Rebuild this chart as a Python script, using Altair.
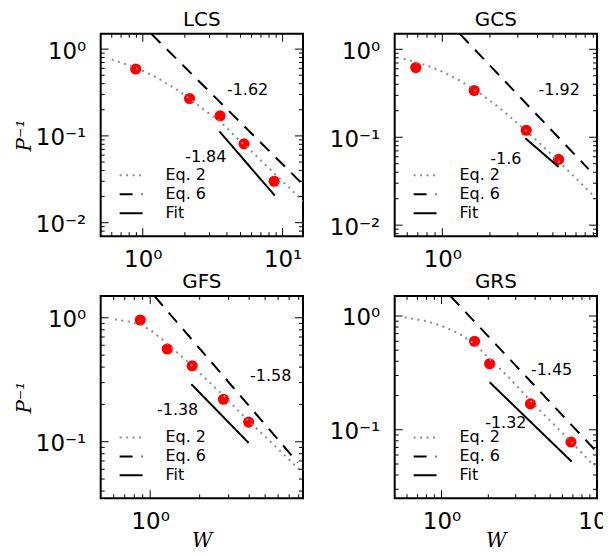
import altair as alt
import pandas as pd

names = ["LCS", "GCS", "GFS", "GRS"]

# axis limits
x_lims = [(0.5, 14.0), (0.5, 9.5), (0.5, 8.5), (0.5, 10.0)]
y_lims = [(0.007, 1.5), (0.0075, 1.5), (0.035, 1.5), (0.025, 1.5)]

# measured points (red dots)
data_w = [[0.89, 2.16, 3.57, 5.3, 8.7],
          [0.68, 1.59, 3.39, 5.43],
          [0.87, 1.27, 1.80, 2.79, 3.97],
          [1.63, 2.04, 3.73, 6.8]]
data_p = [[0.59, 0.27, 0.17, 0.081, 0.030],
          [0.62, 0.34, 0.12, 0.056],
          [0.96, 0.56, 0.41, 0.22, 0.144],
          [0.60, 0.38, 0.169, 0.078]]

# Eq. 2 curves (gray dotted)
eq2_w = [[0.6, 0.8, 1.0, 1.3, 1.7, 2.2, 2.8, 3.6, 4.6, 6.0, 7.7, 10.0, 14.0],
         [0.57, 0.8, 1.0, 1.3, 1.7, 2.2, 2.8, 3.6, 4.6, 6.0, 7.3, 8.6, 9.0],
         [0.61, 0.75, 0.87, 1.0, 1.27, 1.8, 2.3, 2.8, 4.0, 5.5, 8.24],
         [0.58, 0.8, 1.0, 1.3, 1.63, 2.04, 2.7, 3.73, 5.0, 6.8, 9.61]]
eq2_p = [[0.76, 0.65, 0.563, 0.457, 0.353, 0.264, 0.195, 0.145, 0.098, 0.066, 0.045, 0.030, 0.0178],
         [0.78, 0.656, 0.558, 0.438, 0.323, 0.229, 0.160, 0.107, 0.071, 0.0447, 0.0316, 0.0235, 0.0216],
         [0.97, 0.93, 0.88, 0.80, 0.62, 0.41, 0.30, 0.235, 0.145, 0.098, 0.058],
         [0.974, 0.90, 0.82, 0.70, 0.57, 0.42, 0.29, 0.18, 0.12, 0.079, 0.048]]

# Eq. 6 lines (black dashed)
eq6_w = [[1.15, 14.0], [1.29, 8.4], [1.06, 7.9], [1.14, 9.7]]
eq6_p = [[1.5, 0.0275], [1.5, 0.0434], [1.5, 0.068], [1.5, 0.0665]]

# Fit lines (black solid)
fit_w = [[3.53, 8.8], [3.35, 5.43], [1.78, 3.97], [2.04, 6.87]]
fit_p = [[0.113, 0.0205], [0.0972, 0.046], [0.291, 0.0978], [0.2615, 0.0525]]

# slope annotations
slope_text = [["-1.62", "-1.84"], ["-1.92", "-1.6"], ["-1.58", "-1.38"], ["-1.45", "-1.32"]]
slope_w = [[4.0, 2.01], [4.06, 2.01], [4.05, 1.10], [3.76, 1.91]]
slope_p = [[0.337, 0.0572], [0.344, 0.0571], [0.336, 0.179], [0.333, 0.115]]

series_names = ["Eq. 2", "Eq. 6", "Fit"]
series_colors = ["#8c8c8c", "black", "black"]
series_dash = [[2, 4.5], [13, 9], [1, 0]]

PW, PH = 203, 203
MAJ, MIN = 8, 4
FONT = "DejaVu Sans"
label_expr = ("datum.value >= 5 ? '10\u00b9' : datum.value >= 0.5 ? '10\u2070' : "
              "datum.value >= 0.05 ? '10\u207b\u00b9' : '10\u207b\u00b2'")


def decade_ticks(lo, hi):
    majors, minors = [], []
    for n in range(-3, 3):
        base = 10.0 ** n
        if lo < base < hi:
            majors.append(base)
        for k in range(2, 10):
            v = k * base
            if lo < v < hi:
                minors.append(v)
    return majors, minors


def make_panel(i):
    xd, yd = x_lims[i], y_lims[i]
    top = i < 2
    left = i % 2 == 0
    xs = alt.Scale(type="log", domain=list(xd), nice=False)
    ys = alt.Scale(type="log", domain=list(yd), nice=False)

    xkw = dict(values=[v for v in [0.1, 1, 10, 100] if xd[0] <= v <= xd[1]],
               labelExpr=label_expr, ticks=False, domain=False, grid=False,
               labelFontSize=23, labelFont=FONT, labelPadding=12, labelFlush=False,
               labelOverlap=False, labelColor="black")
    if top:
        xkw["title"] = None
    else:
        xkw.update(title="W", titleFont="DejaVu Serif", titleFontStyle="italic",
                   titleFontWeight="normal", titleFontSize=20, titleX=PW / 2, titleY=48,
                   titleBaseline="alphabetic", titleAlign="center", titleColor="black")
    ykw = dict(values=[v for v in [0.01, 0.1, 1] if yd[0] <= v <= yd[1]],
               labelExpr=label_expr, ticks=False, domain=False, grid=False,
               labelFontSize=23, labelFont=FONT, labelPadding=15, labelOffset=2,
               labelFlush=False, labelOverlap=False, labelColor="black")
    if left:
        ykw.update(title="P\u207b\u00b9", titleFont="DejaVu Serif", titleFontStyle="italic",
                   titleFontWeight="normal", titleFontSize=20, titleAngle=270,
                   titleX=-70, titleY=PH / 2, titleBaseline="alphabetic",
                   titleAlign="center", titleColor="black")
    else:
        ykw["title"] = None
    xaxis = alt.Axis(**xkw)
    yaxis = alt.Axis(**ykw)

    X = alt.X("W:Q", scale=xs, axis=xaxis)
    Y = alt.Y("P:Q", scale=ys, axis=yaxis)

    pts = pd.DataFrame({"W": data_w[i], "P": data_p[i]})
    rows = []
    for s, ws, ps in [("Eq. 2", eq2_w[i], eq2_p[i]), ("Eq. 6", eq6_w[i], eq6_p[i]),
                      ("Fit", fit_w[i], fit_p[i])]:
        for k, (w, p) in enumerate(zip(ws, ps)):
            rows.append({"series": s, "W": w, "P": p, "k": k})
    lines = pd.DataFrame(rows)
    ann = pd.DataFrame({"W": slope_w[i], "P": slope_p[i], "t": slope_text[i]})

    leg = alt.Legend(orient="none", legendX=18, legendY=134, title=None,
                     symbolType="stroke", symbolSize=529, symbolStrokeWidth=2,
                     labelFontSize=16, labelFont=FONT, labelOffset=22,
                     rowPadding=3, padding=0, clipHeight=16, labelColor="black")

    point_layer = alt.Chart(pts).mark_circle(size=125, color="#ff0000", opacity=1).encode(x=X, y=Y)
    line_layer = alt.Chart(lines).mark_line(strokeWidth=2, clip=True).encode(
        x=X, y=Y, order="k:Q",
        color=alt.Color("series:N", scale=alt.Scale(domain=series_names, range=series_colors), legend=leg),
        strokeDash=alt.StrokeDash("series:N", scale=alt.Scale(domain=series_names, range=series_dash), legend=leg),
    )
    text_layer = alt.Chart(ann).mark_text(align="left", baseline="middle", fontSize=16,
                                          font=FONT, color="black").encode(x=X, y=Y, text="t:N")

    xmaj, xmin = decade_ticks(*xd)
    ymaj, ymin = decade_ticks(*yd)

    tick_layers = []
    for L, vals in [(MAJ, xmaj), (MIN, xmin)]:
        d = pd.DataFrame({"W": vals})
        tick_layers.append(alt.Chart(d).mark_rule(color="black", strokeWidth=1).encode(
            x=X, y=alt.value(PH), y2=alt.value(PH - L)))
        tick_layers.append(alt.Chart(d).mark_rule(color="black", strokeWidth=1).encode(
            x=X, y=alt.value(0), y2=alt.value(L)))
    for L, vals in [(MAJ, ymaj), (MIN, ymin)]:
        d = pd.DataFrame({"P": vals})
        tick_layers.append(alt.Chart(d).mark_rule(color="black", strokeWidth=1).encode(
            y=Y, x=alt.value(0), x2=alt.value(L)))
        tick_layers.append(alt.Chart(d).mark_rule(color="black", strokeWidth=1).encode(
            y=Y, x=alt.value(PW), x2=alt.value(PW - L)))

    return alt.layer(point_layer, line_layer, text_layer, *tick_layers).properties(
        width=PW, height=PH,
        title=alt.TitleParams(text=names[i], fontSize=20, font=FONT, fontWeight="normal",
                              offset=3, anchor="middle", color="black"),
    )


panels = [make_panel(i) for i in range(4)]
chart = alt.concat(*panels, columns=2, spacing={"row": 60, "column": 92}, bounds="flush").resolve_scale(
    color="independent", strokeDash="independent"
).properties(
    padding={"left": 6, "top": 0, "right": -15, "bottom": -1},
    background="white",
).configure_view(stroke="black", strokeWidth=2)

chart.save("out.html", embed_options={"renderer": "svg", "actions": False})
